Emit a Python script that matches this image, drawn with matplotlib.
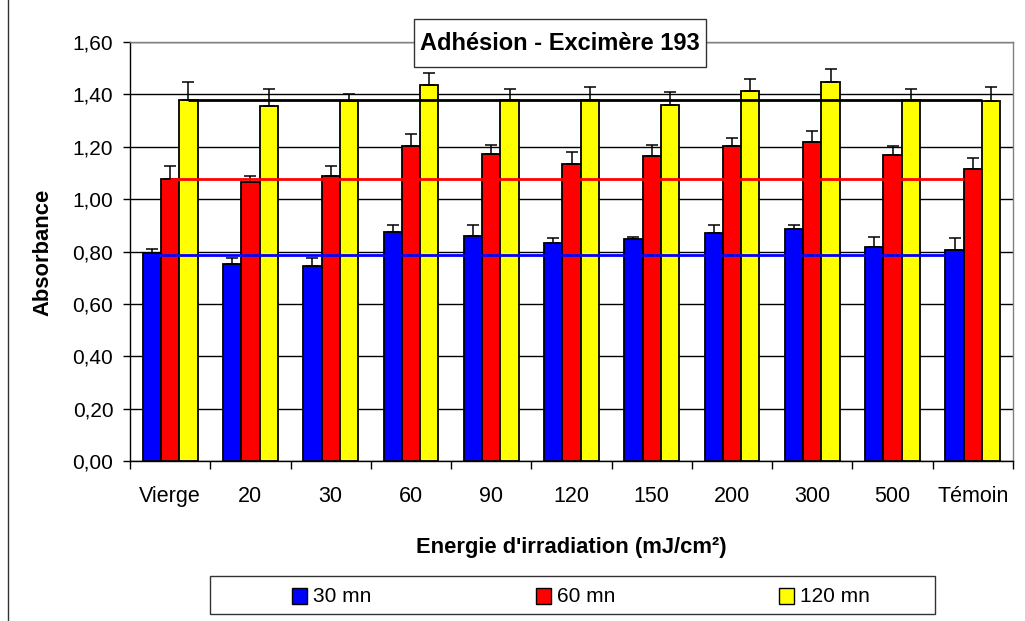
import matplotlib
matplotlib.use('Agg')
import matplotlib.pyplot as plt
import numpy as np
from matplotlib.patches import Rectangle
from matplotlib.lines import Line2D
from matplotlib.ticker import FixedLocator, FuncFormatter

plt.rcParams['font.family'] = ['Liberation Sans', 'DejaVu Sans']

# donnees
categories = ['Vierge', '20', '30', '60', '90', '120', '150', '200', '300', '500', 'Témoin']
series_names = ['30 mn', '60 mn', '120 mn']
abs_30 = [0.793, 0.751, 0.744, 0.874, 0.861, 0.833, 0.846, 0.869, 0.885, 0.819, 0.804]
err_30 = [0.015, 0.023, 0.033, 0.029, 0.042, 0.017, 0.010, 0.034, 0.018, 0.037, 0.046]
abs_60 = [1.078, 1.066, 1.090, 1.201, 1.173, 1.136, 1.163, 1.201, 1.220, 1.167, 1.115]
err_60 = [0.048, 0.024, 0.036, 0.048, 0.034, 0.043, 0.044, 0.031, 0.042, 0.035, 0.042]
abs_120 = [1.378, 1.355, 1.373, 1.436, 1.378, 1.378, 1.360, 1.413, 1.449, 1.378, 1.373]
err_120 = [0.070, 0.064, 0.029, 0.044, 0.041, 0.052, 0.048, 0.046, 0.046, 0.041, 0.057]
# niveaux de reference (Vierge)
ref_levels = [0.785, 1.078, 1.378]

colors = ['#0000ff', '#ff0000', '#ffff00']
ref_colors = ['#0000ff', '#ff0000', '#000000']

W, H = 1025, 621
fig = plt.figure(figsize=(W / 100, H / 100), dpi=100)
ax = fig.add_axes([130 / W, 1 - 461 / H, (1013 - 130) / W, (461 - 42) / H])

x = np.arange(len(categories))
width = 0.228
values = [abs_30, abs_60, abs_120]
errors = [err_30, err_60, err_120]

for k in range(3):
    pos = x + (k - 1) * width
    ax.bar(pos, values[k], width, color=colors[k], edgecolor='black',
           linewidth=1.3, zorder=3)
    ax.errorbar(pos, values[k], yerr=[np.zeros(len(pos)), errors[k]],
                fmt='none', ecolor='black', elinewidth=1.1, capsize=4,
                capthick=1.1, zorder=4)

# lignes de reference
for k in range(3):
    x0 = x[0] + (k - 1) * width
    x1 = x[-1] + (k - 1) * width - width / 2
    ax.plot([x0, x1], [ref_levels[k], ref_levels[k]], color=ref_colors[k],
            linewidth=2.0, zorder=5, solid_capstyle='butt')

ax.set_xlim(-0.5, len(categories) - 0.5)
ax.set_ylim(0, 1.6)
ax.set_yticks(np.arange(0, 1.61, 0.2))
ax.yaxis.set_major_formatter(FuncFormatter(lambda v, p: f'{v:.2f}'.replace('.', ',')))
ax.grid(axis='y', color='black', linewidth=1.0, zorder=0)
ax.set_axisbelow(True)

ax.set_xticks(x)
ax.set_xticklabels(categories)
ax.xaxis.set_minor_locator(FixedLocator(np.arange(-0.5, len(categories), 1.0)))
ax.tick_params(axis='x', which='major', length=0, pad=18, labelsize=15.5)
ax.tick_params(axis='x', which='minor', length=6, width=1.0, direction='out')
ax.tick_params(axis='y', length=5, width=1.0, direction='out', pad=7, labelsize=15)

for s in ['top', 'right']:
    ax.spines[s].set_color('#808080')
    ax.spines[s].set_linewidth(1.0)
for s in ['left', 'bottom']:
    ax.spines[s].set_color('black')
    ax.spines[s].set_linewidth(1.0)

# titre dans un cadre
fig.patches.append(Rectangle((414 / W, 1 - 67 / H), 292 / W, 48 / H,
                             transform=fig.transFigure, facecolor='white',
                             edgecolor='#333333', linewidth=1.0, zorder=10))
fig.text(560 / W, 1 - 43 / H, 'Adhésion - Excimère 193', ha='center', va='center',
         fontsize=17, fontweight='bold', zorder=11)

fig.text(571 / W, 1 - 547 / H, "Energie d'irradiation (mJ/cm²)", ha='center',
         va='center', fontsize=15.8, fontweight='bold')
fig.text(43 / W, 1 - 252 / H, 'Absorbance', ha='center', va='center',
         rotation=90, fontsize=15.8, fontweight='bold')

# legende
fig.patches.append(Rectangle((210 / W, 1 - 614 / H), 725 / W, 38 / H,
                             transform=fig.transFigure, facecolor='white',
                             edgecolor='#333333', linewidth=1.0, zorder=10))
leg_x = [292, 536, 779]
for k in range(3):
    fig.patches.append(Rectangle((leg_x[k] / W, 1 - 604 / H), 15 / W, 16 / H,
                                 transform=fig.transFigure, facecolor=colors[k],
                                 edgecolor='black', linewidth=1.0, zorder=11))
    fig.text((leg_x[k] + 21) / W, 1 - 596 / H, series_names[k], ha='left',
             va='center', fontsize=15, zorder=11)

# bord gauche du cadre du graphique
fig.add_artist(Line2D([7.5 / W, 7.5 / W], [0, 1], transform=fig.transFigure,
                      color='#333333', linewidth=1.0))

fig.savefig('out.png', dpi=100)
